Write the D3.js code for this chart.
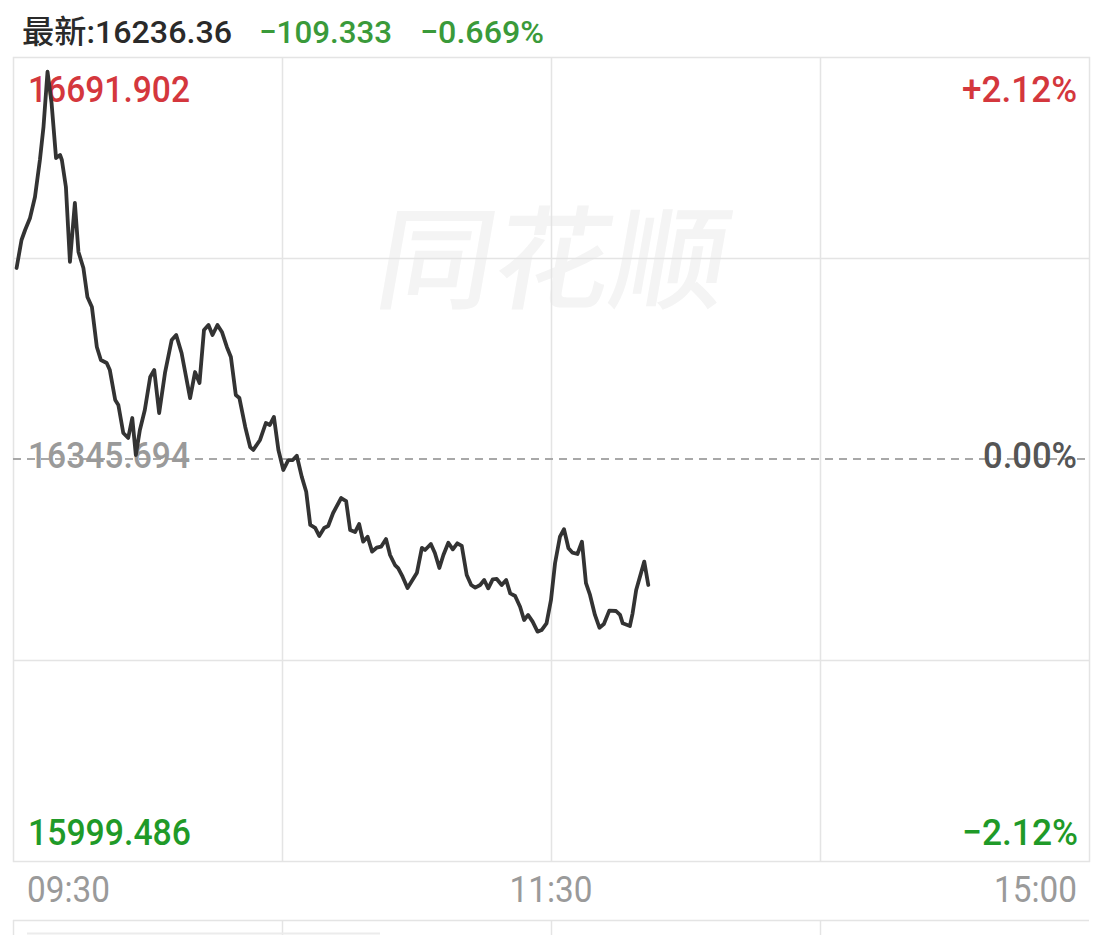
<!DOCTYPE html>
<html>
<head>
<meta charset="utf-8">
<script src="https://cdn.jsdelivr.net/npm/d3@7"></script>
<style>
  html, body { margin: 0; padding: 0; background: #ffffff; }
  svg { display: block; }
</style>
</head>
<body>
<svg id="chart" width="1104" height="935"></svg>
<script>
// ---------------- DATA ----------------
const preClose = 16345.694;
const upperPrice = 16691.902;
const lowerPrice = 15999.486;
const lastPrice = "16236.36";
const change = "\u2212109.333";
const changePct = "\u22120.669%";
const upperPct = "+2.12%";
const midPct = "0.00%";
const lowerPct = "\u22122.12%";

// trading minutes from 09:30 (11:30 and 13:00 share minute 120)
const minutes = [0.8,1.9,2.7,3.8,4.9,6.0,6.8,7.7,8.6,9.6,10.5,10.9,11.8,12.7,13.8,14.6,15.7,16.6,17.6,18.7,
  19.6,20.9,21.6,22.8,23.5,24.6,25.7,26.6,27.4,28.3,29.4,30.6,31.5,32.6,33.9,35.4,36.4,37.6,39.5,40.6,
  41.6,42.6,43.6,44.5,45.6,46.6,47.7,48.6,49.7,50.5,51.8,52.9,53.6,55.1,56.4,57.3,58.2,59.2,60.3,61.4,
  62.4,63.3,64.4,65.4,66.3,67.4,68.3,69.4,70.3,71.4,73.2,74.3,75.2,76.3,77.2,78.1,79.1,80.1,81.1,82.1,
  83.2,84.1,85.2,85.9,86.9,88.0,89.1,90.1,91.2,91.9,93.2,94.1,95.1,96.0,97.1,98.1,99.1,100.1,101.2,102.2,
  103.1,104.2,105.1,106.0,107.0,107.9,109.0,110.0,110.9,112.0,113.1,114.0,114.9,115.9,117.0,117.9,119.0,120.0,120.9,122.0,
  122.9,123.9,124.8,125.9,126.9,127.8,128.7,129.8,130.8,131.8,133.0,134.5,135.4,136.0,137.6,138.2,139.0,140.8,141.7];
const prices = [16510.2,16534.3,16542.9,16553.3,16571.3,16603.2,16631.6,16679.2,16652.3,16604.9,16607.5,16603.2,16580.0,16515.4,16566.2,16524.0,16510.2,16485.2,16476.6,16442.2,
  16431.0,16428.4,16422.3,16396.5,16392.2,16368.1,16363.8,16381.0,16349.1,16370.7,16387.9,16416.3,16422.3,16385.3,16419.8,16448.2,16452.5,16437.0,16398.2,16420.6,
  16411.2,16456.8,16461.1,16452.5,16461.1,16455.1,16442.2,16433.5,16400.8,16398.2,16373.3,16356.0,16353.5,16362.1,16376.7,16375.0,16381.9,16353.5,16336.2,16344.8,
  16344.8,16348.5,16330.5,16317.5,16288.9,16286.3,16279.4,16286.3,16288.0,16299.2,16312.1,16309.5,16284.6,16282.8,16289.7,16274.5,16278.8,16265.9,16269.3,16270.2,
  16276.8,16263.0,16254.4,16251.8,16244.3,16234.6,16241.5,16247.8,16269.1,16267.3,16272.5,16264.7,16251.8,16263.0,16273.6,16267.9,16273.1,16270.8,16245.8,16237.2,
  16234.9,16237.2,16241.5,16234.3,16242.1,16242.4,16237.2,16241.5,16230.0,16227.7,16218.5,16207.0,16211.4,16205.6,16197.0,16198.4,16204.2,16224.3,16255.9,16278.8,
  16285.2,16268.8,16265.0,16263.9,16274.5,16238.7,16228.6,16211.4,16200.4,16203.6,16215.1,16214.8,16211.4,16204.2,16201.9,16212.8,16232.9,16257.3,16237.2];

const timeTickMinutes = [0, 120, 240];
const timeTickLabels = ["09:30", "11:30", "15:00"];
const gridMinutes = [60, 120, 180];

// ---------------- DRAW ----------------
(function () {
const svg = d3.select("#chart");
const L = 13, R = 1089, T = 57, B = 861;

const x = d3.scaleLinear().domain([0, 240]).range([L, R]);
const y = d3.scaleLinear().domain([lowerPrice, upperPrice]).range([B, T]);

const numFont = "Roboto, 'Noto Sans', sans-serif";
const gridColor = "#e4e4e4";

// watermark
svg.append("text")
  .attr("x", 548).attr("y", 300)
  .attr("text-anchor", "middle")
  .attr("font-family", "'Noto Sans CJK SC', sans-serif")
  .attr("font-weight", 500)
  .attr("font-size", 112)
  .attr("fill", "#f4f4f4")
  .attr("transform", "skewX(-10) translate(52,0)")
  .attr("textLength", 350)
  .attr("lengthAdjust", "spacingAndGlyphs")
  .text("同花顺");

// frame
svg.append("rect")
  .attr("x", L + 0.5).attr("y", T + 0.5)
  .attr("width", R - L).attr("height", B - T)
  .attr("fill", "none").attr("stroke", gridColor).attr("stroke-width", 1.5);

// vertical grid
svg.selectAll("line.vgrid").data(gridMinutes).enter().append("line")
  .attr("class", "vgrid")
  .attr("x1", d => Math.round(x(d)) + 0.5).attr("x2", d => Math.round(x(d)) + 0.5)
  .attr("y1", T).attr("y2", B)
  .attr("stroke", gridColor).attr("stroke-width", 1.5);

// horizontal grid (quarter levels)
const qLevels = [lowerPrice + (upperPrice - lowerPrice) * 0.25, lowerPrice + (upperPrice - lowerPrice) * 0.75];
svg.selectAll("line.hgrid").data(qLevels).enter().append("line")
  .attr("class", "hgrid")
  .attr("x1", L).attr("x2", R)
  .attr("y1", d => Math.round(y(d)) + 0.5).attr("y2", d => Math.round(y(d)) + 0.5)
  .attr("stroke", gridColor).attr("stroke-width", 1.5);

// pre-close dashed line
svg.append("line")
  .attr("x1", L).attr("x2", R)
  .attr("y1", y(preClose)).attr("y2", y(preClose))
  .attr("stroke", "#a8a8a8").attr("stroke-width", 2)
  .attr("stroke-dasharray", "8,6");

// lower panel stub
svg.append("line")
  .attr("x1", L).attr("x2", R).attr("y1", 920.5).attr("y2", 920.5)
  .attr("stroke", gridColor).attr("stroke-width", 1.5);
svg.selectAll("line.vstub").data([0].concat(gridMinutes)).enter().append("line")
  .attr("class", "vstub")
  .attr("x1", d => Math.round(x(d)) + 0.5).attr("x2", d => Math.round(x(d)) + 0.5)
  .attr("y1", 920).attr("y2", 935)
  .attr("stroke", gridColor).attr("stroke-width", 1.5);
svg.append("line")
  .attr("x1", 27).attr("x2", 380).attr("y1", 933.5).attr("y2", 933.5)
  .attr("stroke", "#ececec").attr("stroke-width", 2);

// labels
function label(txt, xx, yy, anchor, size, color, len) {
  const t = svg.append("text")
    .attr("x", xx).attr("y", yy)
    .attr("text-anchor", anchor)
    .attr("font-family", numFont)
    .attr("font-weight", 500)
    .attr("font-size", size)
    .attr("fill", color)
    .text(txt);
  if (len) t.attr("textLength", len).attr("lengthAdjust", "spacingAndGlyphs");
  return t;
}

const red = "#d4373d";
const green = "#1f9a28";
const grey = "#9a9a9a";

label(d3.format(".3f")(upperPrice), 28, 102, "start", 37.5, red, 162);
label(d3.format(".3f")(preClose), 28, 468, "start", 37.5, grey, 162);
label(d3.format(".3f")(lowerPrice), 28, 845, "start", 37.5, green, 163);

label(upperPct, 1077, 102, "end", 37.5, red, 115);
label(midPct, 1077, 468, "end", 37.5, "#555555", 94);
label(lowerPct, 1078, 845, "end", 37.5, green, 116);

// header
svg.append("text")
  .attr("x", 22).attr("y", 43)
  .attr("font-size", 32)
  .attr("font-weight", 500)
  .attr("fill", "#2a2a2a")
  .attr("textLength", 210).attr("lengthAdjust", "spacingAndGlyphs")
  .call(t => {
    t.append("tspan").attr("font-family", "'Noto Sans CJK SC', sans-serif").text("最新");
    t.append("tspan").attr("font-family", numFont).text(":" + lastPrice);
  });
label(change, 259, 43, "start", 32, "#3a9a3a", 133);
label(changePct, 420, 43, "start", 32, "#3a9a3a", 124);

// time axis labels
const anchors = ["start", "middle", "end"];
const xOff = [14, 0, -12];
svg.selectAll("text.tlabel").data(timeTickMinutes).enter().append("text")
  .attr("class", "tlabel")
  .attr("x", (d, i) => x(d) + xOff[i])
  .attr("y", 902)
  .attr("text-anchor", (d, i) => anchors[i])
  .attr("font-family", numFont)
  .attr("font-size", 36.5)
  .attr("fill", grey)
  .attr("textLength", 83)
  .attr("lengthAdjust", "spacingAndGlyphs")
  .text((d, i) => timeTickLabels[i]);

// price line
const series = minutes.map((m, i) => ({ m: m, p: prices[i] }));
svg.append("path")
  .datum(series)
  .attr("fill", "none")
  .attr("stroke", "#333333")
  .attr("stroke-width", 3.8)
  .attr("stroke-linejoin", "round")
  .attr("stroke-linecap", "round")
  .attr("d", d3.line().x(d => x(d.m)).y(d => y(d.p)));
})();
</script>
</body>
</html>
